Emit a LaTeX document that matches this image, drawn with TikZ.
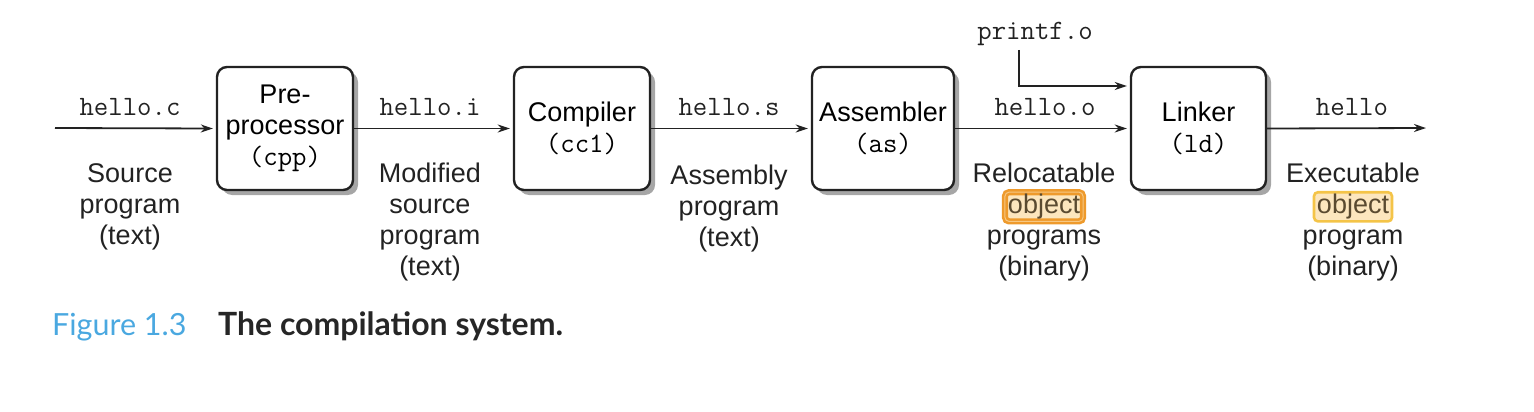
\documentclass[tikz,border=0pt]{standalone}
\usepackage{fontspec}
\setmainfont{Liberation Sans}
\newfontfamily\capfont{Lato}
\usetikzlibrary{arrows.meta,shadows}
\definecolor{capblue}{HTML}{4AA8E0}
\definecolor{objfill}{HTML}{FCE6BE}
\definecolor{objorange}{HTML}{EE9A2C}
\definecolor{objyellow}{HTML}{F4C448}
\definecolor{objtext}{HTML}{5A4A30}
\definecolor{ink}{HTML}{222222}
\tikzset{
  stage/.style={draw=ink, line width=2.4pt, rounded corners=10pt, fill=white,
    minimum height=123pt, inner sep=0pt, align=center,
    font=\fontsize{27}{31}\selectfont,
    drop shadow={shadow xshift=5pt, shadow yshift=-5pt, fill=black!35, opacity=1}},
  arr/.style={draw=ink, line width=1.8pt, -{Stealth[length=12pt,width=8pt]}},
  file/.style={inner sep=0pt, anchor=base, font=\ttfamily\fontsize{28}{30}\selectfont, text=ink},
  desc/.style={inner sep=0pt, anchor=north, align=center, font=\fontsize{27}{31}\selectfont, text=ink},
  hl/.style={rounded corners=4pt, fill=objfill, line width=2.6pt, inner xsep=3pt, inner ysep=2pt, text=objtext}
}
\begin{document}
\begin{tikzpicture}[x=1pt,y=-1pt]
\useasboundingbox (0,0) rectangle (1534,412);
% stages
\node[stage, minimum width=136pt] (pre) at (285,128.5) {Pre-\\processor\\{\ttfamily\fontsize{28}{31}\selectfont(cpp)}};
\node[stage, minimum width=136pt] (cc) at (582,128.5) {Compiler\\{\ttfamily\fontsize{28}{31}\selectfont(cc1)}};
\node[stage, minimum width=142pt] (as) at (883,128.5) {Assembler\\{\ttfamily\fontsize{28}{31}\selectfont(as)}};
\node[stage, minimum width=135pt] (ld) at (1198.5,128.5) {Linker\\{\ttfamily\fontsize{28}{31}\selectfont(ld)}};
% endpoints
\coordinate (src) at (55,128);
\coordinate (out) at (1426,128);
\coordinate (pturn) at (1019,86);
% file labels
\node[file] (fc) at (130,115) {hello.c};
\node[file] (fi) at (430,115) {hello.i};
\node[file] (fs) at (729,115) {hello.s};
\node[file] (fo) at (1045,115) {hello.o};
\node[file] (fh) at (1352,115) {hello};
\node[file] (fp) at (1035,40) {printf.o};
% connectors
\draw[arr] (src) -- ([xshift=-3pt]pre.west);
\draw[arr] (pre.east) -- ([xshift=-3pt]cc.west);
\draw[arr] (cc.east) -- ([xshift=-3pt]as.west);
\draw[arr] (as.east) -- ([xshift=-3pt]ld.west);
\draw[arr] (ld.east) -- (out);
\draw[arr] (pturn |- 0,50) -- (pturn) -- ([xshift=-3pt]pturn -| ld.west);
% descriptions
\node[desc] (d1) at (130,163) {Source\\program\\(text)};
\node[desc] (d2) at (430,163) {Modified\\source\\program\\(text)};
\node[desc] (d3) at (729,165) {Assembly\\program\\(text)};
\node[desc] (d4) at (1044,163) {Relocatable\\\tikz[baseline=(h1.base)]\node[hl, draw=objorange, double=objfill!60!objorange, double distance=1pt] (h1) {object};\\programs\\(binary)};
\node[desc] (d5) at (1353,163) {Executable\\\tikz[baseline=(h2.base)]\node[hl, draw=objyellow] (h2) {object};\\program\\(binary)};
% caption
\node[inner sep=0pt, anchor=base west, font=\capfont\fontsize{30.5}{34}\selectfont, text=capblue] (fig) at (52,335) {Figure 1.3};
\node[inner sep=0pt, anchor=base west, font=\capfont\bfseries\fontsize{32}{34}\selectfont, text=black!85] (cap) at (218,335) {The compilation system.};
\end{tikzpicture}
\end{document}
